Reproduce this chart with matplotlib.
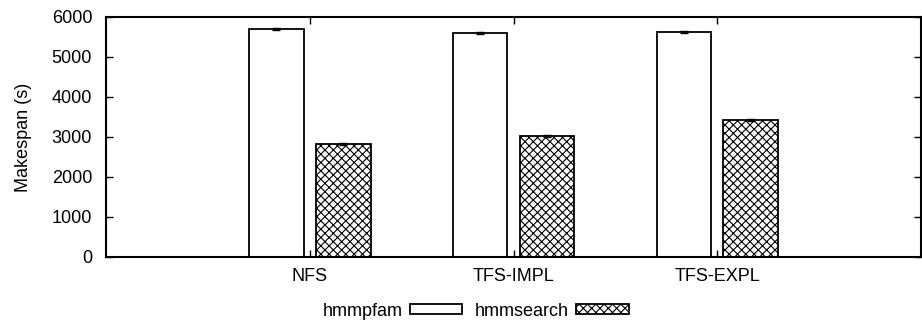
import numpy as np
import matplotlib
matplotlib.use("Agg")
import matplotlib.pyplot as plt

plt.rcParams['font.family'] = ['Liberation Sans', 'DejaVu Sans']
plt.rcParams['hatch.linewidth'] = 0.8

categories = ["NFS", "TFS-IMPL", "TFS-EXPL"]
hmmpfam = [5700, 5600, 5625]
hmmpfam_err = [25, 20, 25]
hmmsearch = [2830, 3030, 3420]
hmmsearch_err = [30, 30, 20]

x = np.arange(1, len(categories) + 1)
w = 0.268
off = 0.164
fs = 13

fig = plt.figure(figsize=(9.22, 3.26), dpi=100)
ax = fig.add_axes([0.115, 0.212, 0.884, 0.736])

ax.bar(x - off, hmmpfam, w, yerr=hmmpfam_err, color='white', edgecolor='black',
       linewidth=1.3, label='hmmpfam',
       error_kw=dict(ecolor='black', elinewidth=1, capsize=3))
ax.bar(x + off, hmmsearch, w, yerr=hmmsearch_err, color='white', edgecolor='black',
       linewidth=1.3, hatch='xxxx', label='hmmsearch',
       error_kw=dict(ecolor='black', elinewidth=1, capsize=3))

ax.set_xlim(0, 4)
ax.set_ylim(0, 6000)
ax.set_xticks(x)
ax.set_xticklabels(categories, fontsize=fs)
ax.set_yticks(np.arange(0, 6001, 1000))
ax.tick_params(axis='y', labelsize=fs, direction='in', right=True, length=5, width=1, pad=10)
ax.tick_params(axis='x', direction='in', top=True, length=5, width=1, pad=8)
ax.set_ylabel("Makespan (s)", fontsize=fs, labelpad=14)
for s in ax.spines.values():
    s.set_linewidth(1.5)

# key below the plot, gnuplot style: label first, then the swatch
fig.legend(*ax.get_legend_handles_labels(), loc='center', bbox_to_anchor=(0.516, 0.046),
           ncol=2, frameon=False, markerfirst=False, fontsize=fs,
           handlelength=2.9, handleheight=0.4, columnspacing=0.7, handletextpad=0.4)

fig.savefig("out.png", dpi=100, facecolor='white')
